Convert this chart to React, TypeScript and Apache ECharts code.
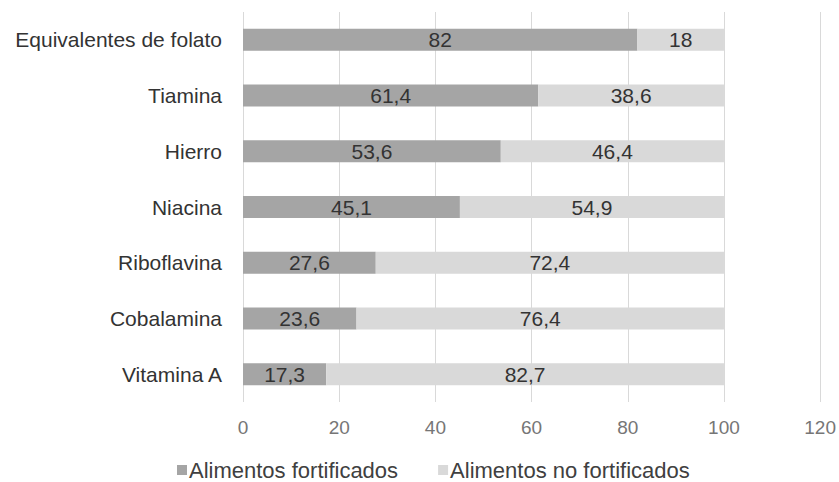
import React, { useEffect, useRef } from "react";
import * as echarts from "echarts";

const categories = [
  "Equivalentes de folato",
  "Tiamina",
  "Hierro",
  "Niacina",
  "Riboflavina",
  "Cobalamina",
  "Vitamina A",
];
const fortificados = [82, 61.4, 53.6, 45.1, 27.6, 23.6, 17.3];
const noFortificados = [18, 38.6, 46.4, 54.9, 72.4, 76.4, 82.7];
const seriesNames = ["Alimentos fortificados", "Alimentos no fortificados"];
const xTicks = { min: 0, max: 120, interval: 20 };

const FONT = "'Liberation Sans', Arial, sans-serif";

export default function App() {
  const ref = useRef<HTMLDivElement>(null);
  useEffect(() => {
    if (!ref.current) return;
    const chart = echarts.init(ref.current, undefined, { renderer: "svg" });
    const fmt = (p: any) => String(p.value).replace(".", ",");
    chart.setOption({
      animation: false,
      textStyle: { fontFamily: FONT },
      grid: { left: 243, right: 17, top: 12, bottom: 80, containLabel: false },
      legend: {
        top: 459,
        left: 177,
        padding: 0,
        itemWidth: 10,
        itemHeight: 10,
        itemGap: 40,
        icon: "rect",
        textStyle: { fontFamily: FONT, fontSize: 22, lineHeight: 22, color: "#404040", padding: [0, 0, 0, -3] },
        data: seriesNames,
      },
      xAxis: {
        type: "value",
        min: xTicks.min,
        max: xTicks.max,
        interval: xTicks.interval,
        axisLine: { show: false },
        axisTick: { show: false },
        splitLine: { show: true, lineStyle: { color: "#d9d9d9", width: 1 } },
        axisLabel: { fontFamily: FONT, fontSize: 19, color: "#767676", margin: 16 },
      },
      yAxis: {
        type: "category",
        inverse: true,
        data: categories,
        axisLine: { show: false },
        axisTick: { show: false },
        axisLabel: { fontFamily: FONT, fontSize: 21, color: "#333333", margin: 21 },
      },
      series: [
        {
          name: seriesNames[0],
          type: "bar",
          stack: "total",
          barWidth: 22,
          data: fortificados,
          itemStyle: { color: "#a5a5a5" },
          label: { show: true, position: "inside", formatter: fmt, fontFamily: FONT, fontSize: 21, color: "#333333" },
        },
        {
          name: seriesNames[1],
          type: "bar",
          stack: "total",
          barWidth: 22,
          data: noFortificados,
          itemStyle: { color: "#d9d9d9" },
          label: { show: true, position: "inside", formatter: fmt, fontFamily: FONT, fontSize: 21, color: "#333333" },
        },
      ],
    });
    return () => chart.dispose();
  }, []);
  return (
    <div
      ref={ref}
      style={{ position: "absolute", left: 0, top: 0, width: 839, height: 482, background: "#fff" }}
    />
  );
}
